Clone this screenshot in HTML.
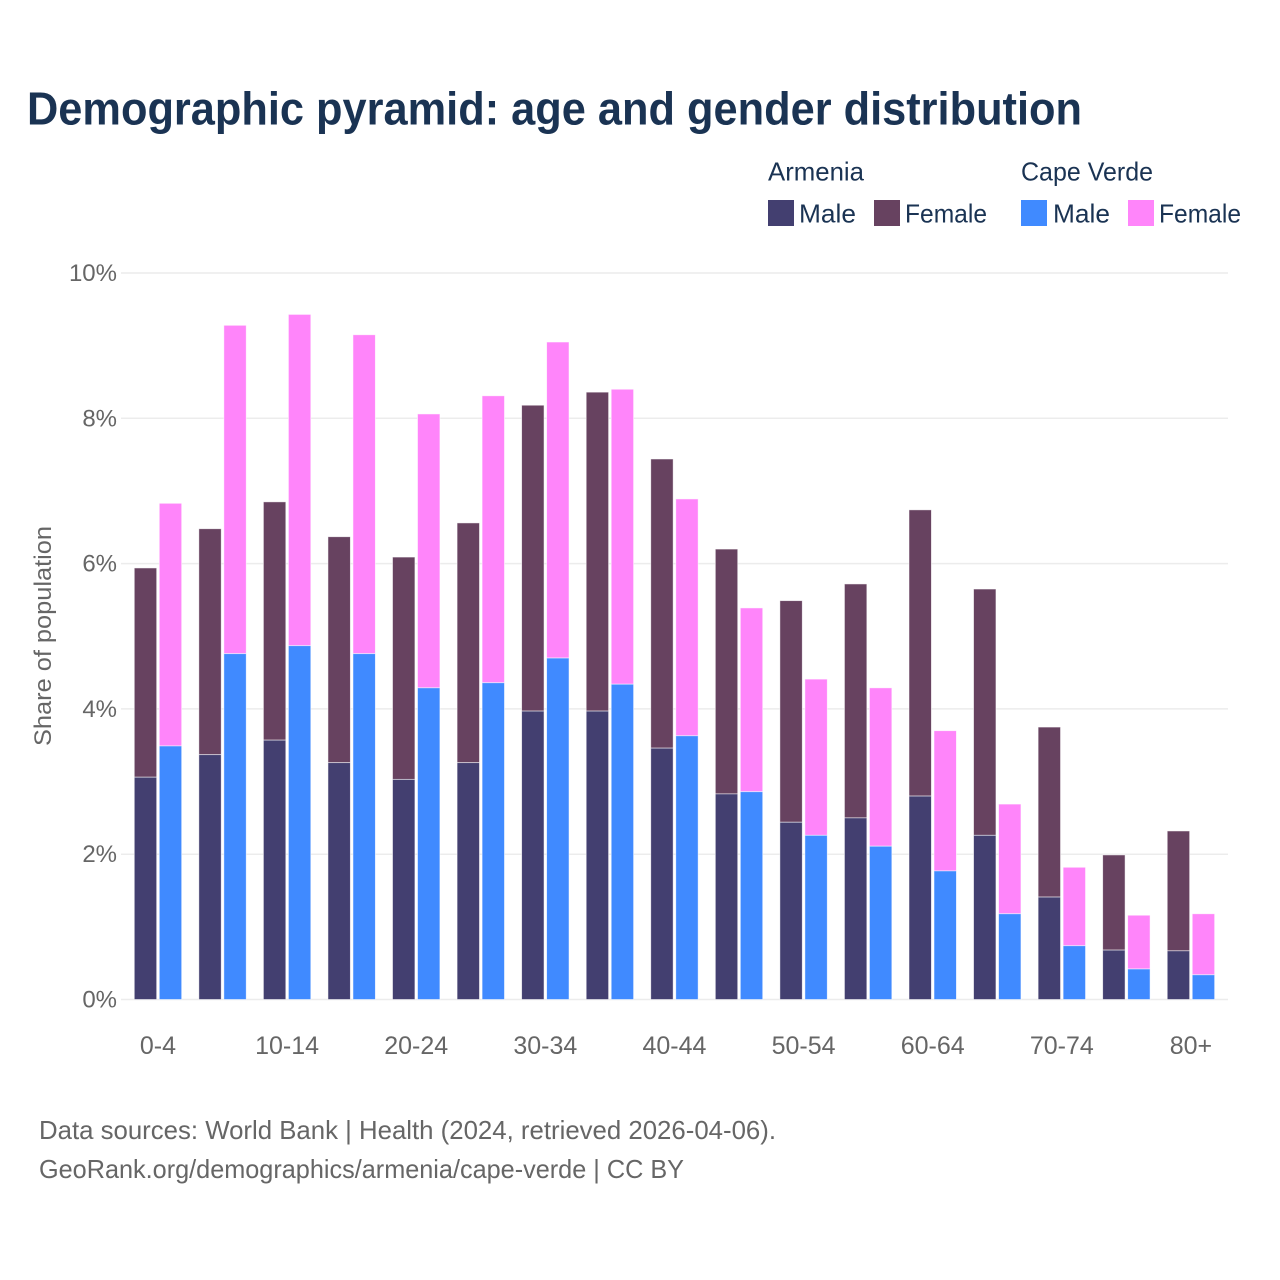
<!DOCTYPE html>
<html lang="en">
<head>
<meta charset="utf-8">
<title>Demographic pyramid: age and gender distribution</title>
<style>
  html, body { margin: 0; padding: 0; background: #fff; }
  svg { display: block; font-family: "Liberation Sans", sans-serif; }
  .legend-text { fill: #1a3353; font-size: 26px; }
  .axis-text { fill: #666; font-size: 24px; }
  .x-text { fill: #666; font-size: 25px; }
  .foot-text { fill: #666; font-size: 26px; }
</style>
</head>
<body>
<svg id="chart" xmlns="http://www.w3.org/2000/svg" width="1280" height="1280" viewBox="0 0 1280 1280">
  <rect x="0" y="0" width="1280" height="1280" fill="#fff"/>
  <text x="27" y="124.5" font-size="46" font-weight="700" fill="#1a3353" textLength="1055" lengthAdjust="spacingAndGlyphs">Demographic pyramid: age and gender distribution</text>

  <g>
    <text class="legend-text" x="768" y="180.5" textLength="96" lengthAdjust="spacingAndGlyphs">Armenia</text>
    <text class="legend-text" x="1021" y="180.5" textLength="132" lengthAdjust="spacingAndGlyphs">Cape Verde</text>
    <rect x="768" y="200" width="26" height="26" fill="#433f70"/>
    <text class="legend-text" x="799" y="222.5" textLength="57" lengthAdjust="spacingAndGlyphs">Male</text>
    <rect x="874" y="200" width="26" height="26" fill="#674260"/>
    <text class="legend-text" x="905" y="222.5" textLength="82" lengthAdjust="spacingAndGlyphs">Female</text>
    <rect x="1021" y="200" width="26" height="26" fill="#408aff"/>
    <text class="legend-text" x="1053" y="222.5" textLength="57" lengthAdjust="spacingAndGlyphs">Male</text>
    <rect x="1128" y="200" width="26" height="26" fill="#ff85fa"/>
    <text class="legend-text" x="1159" y="222.5" textLength="82" lengthAdjust="spacingAndGlyphs">Female</text>
  </g>

  <g id="grid"></g>
  <g id="y-axis"></g>
  <g id="bars"></g>
  <g id="x-axis"></g>

  <text class="axis-text" text-anchor="middle" transform="translate(51 636) rotate(-90)" textLength="220" lengthAdjust="spacingAndGlyphs">Share of population</text>

  <text class="foot-text" x="39" y="1139" textLength="737" lengthAdjust="spacingAndGlyphs">Data sources: World Bank | Health (2024, retrieved 2026-04-06).</text>
  <text class="foot-text" x="39" y="1178" textLength="645" lengthAdjust="spacingAndGlyphs">GeoRank.org/demographics/armenia/cape-verde | CC BY</text>
</svg>

<script>
const categories = ["0-4","5-9","10-14","15-19","20-24","25-29","30-34","35-39","40-44","45-49","50-54","55-59","60-64","65-69","70-74","75-79","80+"];
const armeniaMale = [3.06,3.37,3.57,3.26,3.03,3.26,3.97,3.97,3.46,2.83,2.44,2.50,2.80,2.26,1.41,0.68,0.67];
const armeniaFemale = [2.88,3.11,3.28,3.11,3.06,3.30,4.21,4.39,3.98,3.37,3.05,3.22,3.94,3.39,2.34,1.31,1.65];
const capeVerdeMale = [3.49,4.76,4.87,4.76,4.29,4.36,4.70,4.34,3.63,2.86,2.26,2.11,1.77,1.18,0.74,0.42,0.34];
const capeVerdeFemale = [3.34,4.52,4.56,4.39,3.77,3.95,4.35,4.06,3.26,2.53,2.15,2.18,1.93,1.51,1.08,0.74,0.84];
const yTicks = [0,2,4,6,8,10];
const xTickEvery = 2;

const NS = "http://www.w3.org/2000/svg";
const plot = { left: 125.7, step: 64.56, y0: 999.5, pxPerUnit: 72.65, gridLeft: 121, gridRight: 1228 };
const COLORS = { aMale: "#433f70", aFemale: "#674260", cMale: "#408aff", cFemale: "#ff85fa" };

function yScale(v) { return plot.y0 - v * plot.pxPerUnit; }
function xCenter(i) { return plot.left + plot.step * (i + 0.5); }

function make(tag, attrs, parent) {
  const el = document.createElementNS(NS, tag);
  for (const k in attrs) el.setAttribute(k, attrs[k]);
  parent.appendChild(el);
  return el;
}

const gridG = document.getElementById("grid");
const yAxisG = document.getElementById("y-axis");
const xAxisG = document.getElementById("x-axis");
const barsG = document.getElementById("bars");

yTicks.forEach(function (t) {
  const line = make("line", { x1: plot.gridLeft, x2: plot.gridRight, y1: yScale(t), y2: yScale(t), stroke: "#ececec", "stroke-width": 1.5 }, gridG);
  
  
  const label = make("text", { x: 117, y: yScale(t) + 8, "text-anchor": "end", class: "axis-text" }, yAxisG);
  label.textContent = t + "%";
  
  
});

categories.forEach(function (c, i) {
  if (i % xTickEvery !== 0) return;
  const label = make("text", { x: xCenter(i), y: 1054, "text-anchor": "middle", class: "x-text" }, xAxisG);
  label.textContent = c;
  
  
});

function drawBar(parent, x, base, value, fill) {
  const top = yScale(base + value);
  const bottom = yScale(base);
  const r = make("rect", { x: x, y: top, width: 22.4, height: bottom - top, fill: fill, stroke: "#fff", "stroke-opacity": 0.65, "stroke-width": 0.8 }, parent);
  return r;
}

categories.forEach(function (c, i) {
  const g = make("g", {}, barsG);
  
  
  const cx = xCenter(i);
  const xA = cx - 23.7;
  const xC = cx + 1.3;

  const barAF = drawBar(g, xA, armeniaMale[i], armeniaFemale[i], COLORS.aFemale);
  
  

  const barAM = drawBar(g, xA, 0, armeniaMale[i], COLORS.aMale);
  
  

  const barCF = drawBar(g, xC, capeVerdeMale[i], capeVerdeFemale[i], COLORS.cFemale);
  
  

  const barCM = drawBar(g, xC, 0, capeVerdeMale[i], COLORS.cMale);
  
  
});
</script>
</body>
</html>
